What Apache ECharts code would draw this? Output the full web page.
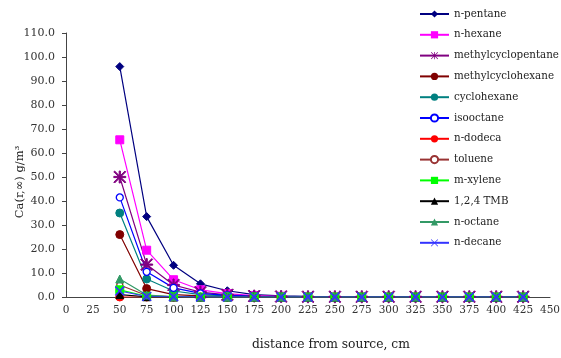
<!DOCTYPE html>
<html>
<head>
<meta charset="utf-8">
<script src="https://cdn.jsdelivr.net/npm/echarts@6/dist/echarts.min.js"></script>
<style>
  html, body { margin: 0; padding: 0; background: #fff; }
  #chart { width: 561px; height: 358px; }
</style>
</head>
<body>
<div id="chart"></div>
<script>
// distances (cm)
const distances = [50, 75, 100, 125, 150, 175, 200, 225, 250, 275, 300, 325, 350, 375, 400, 425];

const nPentane = [96.0, 33.5, 13.2, 5.5, 2.6, 1.0, 0.5, 0.3, 0.2, 0.1, 0.1, 0.1, 0.1, 0.1, 0.1, 0.1];
const nHexane = [65.5, 19.5, 7.2, 3.0, 1.4, 0.6, 0.3, 0.2, 0.1, 0.1, 0.1, 0.1, 0.1, 0.1, 0.1, 0.1];
const methylcyclopentane = [50.0, 13.5, 5.0, 2.0, 0.9, 0.4, 0.2, 0.1, 0.1, 0.1, 0.1, 0.1, 0.1, 0.1, 0.1, 0.1];
const methylcyclohexane = [26.0, 3.5, 1.0, 0.5, 0.2, 0.1, 0.0, 0.0, 0.0, 0.0, 0.0, 0.0, 0.0, 0.0, 0.0, 0.0];
const cyclohexane = [35.0, 7.5, 2.5, 1.0, 0.5, 0.2, 0.1, 0.0, 0.0, 0.0, 0.0, 0.0, 0.0, 0.0, 0.0, 0.0];
const isooctane = [41.5, 10.5, 3.8, 1.5, 0.7, 0.3, 0.1, 0.0, 0.0, 0.0, 0.0, 0.0, 0.0, 0.0, 0.0, 0.0];
const nDodeca = [0.0, 0.0, 0.0, 0.0, 0.0, 0.0, 0.0, 0.0, 0.0, 0.0, 0.0, 0.0, 0.0, 0.0, 0.0, 0.0];
const toluene = [5.0, 0.6, 0.1, 0.0, 0.0, 0.0, 0.0, 0.0, 0.0, 0.0, 0.0, 0.0, 0.0, 0.0, 0.0, 0.0];
const mXylene = [3.0, 0.3, 0.1, 0.0, 0.0, 0.0, 0.0, 0.0, 0.0, 0.0, 0.0, 0.0, 0.0, 0.0, 0.0, 0.0];
const tmb124 = [1.0, 0.1, 0.0, 0.0, 0.0, 0.0, 0.0, 0.0, 0.0, 0.0, 0.0, 0.0, 0.0, 0.0, 0.0, 0.0];
const nOctane = [7.5, 0.8, 0.2, 0.1, 0.0, 0.0, 0.0, 0.0, 0.0, 0.0, 0.0, 0.0, 0.0, 0.0, 0.0, 0.0];
const nDecane = [2.5, 0.2, 0.1, 0.0, 0.0, 0.0, 0.0, 0.0, 0.0, 0.0, 0.0, 0.0, 0.0, 0.0, 0.0, 0.0];

const seriesNames = ['n-pentane', 'n-hexane', 'methylcyclopentane', 'methylcyclohexane', 'cyclohexane',
    'isooctane', 'n-dodeca', 'toluene', 'm-xylene', '1,2,4 TMB', 'n-octane', 'n-decane'];

const FONT = 'DejaVu Serif';

// asterisk and cross markers as paths
const asterisk = 'path://M9,0L11,0L11,20L9,20Z M0,9L20,9L20,11L0,11Z M1.4,0L20,18.6L18.6,20L0,1.4Z M18.6,0L20,1.4L1.4,20L0,18.6Z';
const cross = 'path://M1.4,0L20,18.6L18.6,20L0,1.4Z M18.6,0L20,1.4L1.4,20L0,18.6Z';

function mk(name, values, color, symbol, size, hollow) {
    return {
        name: name,
        type: 'line',
        data: distances.map((d, i) => [d, values[i]]),
        symbol: symbol,
        symbolSize: size,
        showAllSymbol: true,
        lineStyle: { color: color, width: 1.2 },
        itemStyle: hollow
            ? { color: '#fff', borderColor: color, borderWidth: 1.3 }
            : { color: color, borderColor: color },
        emphasis: { disabled: true },
        animation: false
    };
}

const myChart = echarts.init(document.getElementById('chart'));
const option = {
    animation: false,
    textStyle: { fontFamily: FONT },
    grid: {
        left: 66,
        right: 11,
        top: 33,
        bottom: 61,
        containLabel: false,
        outerBoundsMode: 'none'
    },
    legend: {
        orient: 'vertical',
        left: 419,
        top: 9,
        padding: 0,
        itemWidth: 29,
        itemHeight: 9,
        itemGap: 10.8,
        textStyle: { fontFamily: FONT, fontSize: 10.3, color: '#222' },
        data: seriesNames
    },
    xAxis: {
        type: 'value',
        min: 0,
        max: 450,
        interval: 25,
        splitLine: { show: false },
        axisLine: { lineStyle: { color: '#444' } },
        axisTick: { show: false },
        axisLabel: { fontFamily: FONT, fontSize: 10.5, color: '#333', margin: 8 }
    },
    yAxis: {
        type: 'value',
        min: 0,
        max: 110,
        interval: 10,
        name: 'Ca(r,\u221e) g/m\u00b3',
        nameLocation: 'middle',
        nameGap: 40,
        nameMoveOverlap: false,
        nameTextStyle: { fontFamily: FONT, fontSize: 11.5, color: '#222', padding: [0, 34, 0, 0] },
        splitLine: { show: false },
        axisLine: { show: true, lineStyle: { color: '#444' } },
        axisTick: { show: true, length: 4, lineStyle: { color: '#444' } },
        axisLabel: {
            fontFamily: FONT, fontSize: 11, color: '#333', margin: 11,
            formatter: (v) => v.toFixed(1)
        }
    },
    graphic: [{
        type: 'text',
        left: 252,
        top: 339,
        style: { text: 'distance from source, cm', font: '12.3px "DejaVu Serif"', fill: '#222' }
    }],
    series: [
        mk(seriesNames[0], nPentane, '#000080', 'diamond', 8),
        mk(seriesNames[1], nHexane, '#ff00ff', 'rect', 8),
        mk(seriesNames[2], methylcyclopentane, '#800080', asterisk, 12),
        mk(seriesNames[3], methylcyclohexane, '#800000', 'circle', 8),
        mk(seriesNames[4], cyclohexane, '#008080', 'circle', 8),
        mk(seriesNames[5], isooctane, '#0000ff', 'circle', 7, true),
        mk(seriesNames[6], nDodeca, '#ff0000', 'circle', 8),
        mk(seriesNames[7], toluene, '#993333', 'circle', 6, true),
        mk(seriesNames[8], mXylene, '#00ff00', 'rect', 8),
        mk(seriesNames[9], tmb124, '#000000', 'triangle', 8),
        mk(seriesNames[10], nOctane, '#339966', 'triangle', 8),
        mk(seriesNames[11], nDecane, '#3333ff', cross, 9)
    ]
};
myChart.setOption(option);
</script>
</body>
</html>
